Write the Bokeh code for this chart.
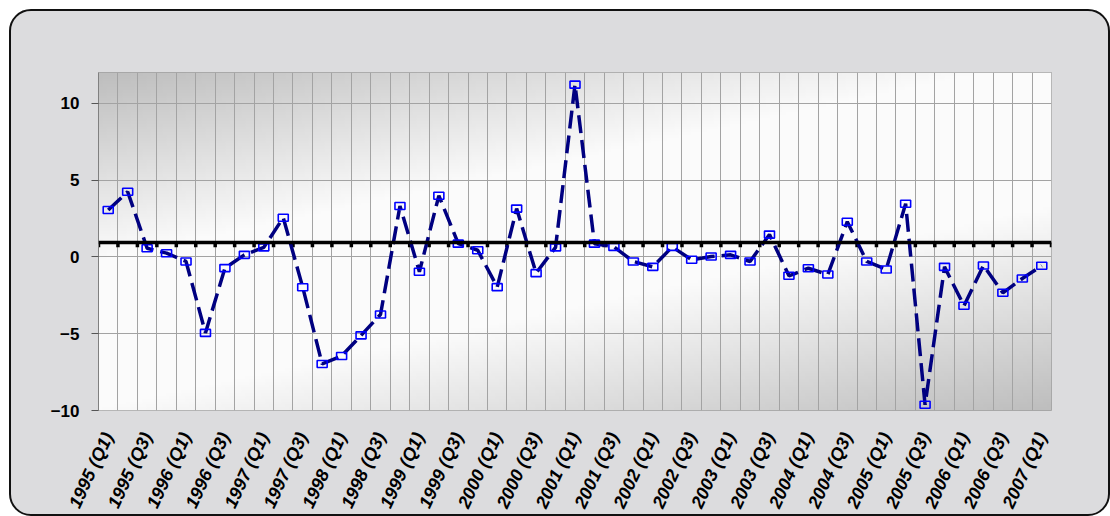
import numpy as np
from math import radians
from bokeh.plotting import figure
from bokeh.models import FixedTicker, Range1d, Span
from bokeh.embed import file_html
from bokeh.resources import INLINE

# ---------------- data ----------------
years = list(range(1995, 2008))
quarter_names = ["Q1", "Q2", "Q3", "Q4"]
categories = [f"{y} ({q})" for y in years for q in quarter_names][:49]   # 1995 (Q1) .. 2007 (Q1)
values = [3.05, 4.24, 0.56, 0.24, -0.30, -4.95, -0.73, 0.13, 0.62, 2.55,
          -1.98, -6.97, -6.45, -5.11, -3.75, 3.31, -0.97, 3.98, 0.86, 0.43,
          -1.97, 3.14, -1.06, 0.62, 11.21, 0.86, 0.65, -0.30, -0.65, 0.65,
          -0.19, 0.02, 0.13, -0.30, 1.45, -1.23, -0.74, -1.15, 2.29, -0.30,
          -0.82, 3.46, -9.63, -0.65, -3.18, -0.56, -2.34, -1.41, -0.58]
reference_level = 0.93
y_ticks = [-10, -5, 0, 5, 10]
y_min, y_max = -10, 12

# ---------------- figure ----------------
n = len(categories)
xs = list(range(1, n + 1))
x_lo, x_hi = 0.5, n + 0.5

p = figure(width=1101, height=507, output_backend="svg", toolbar_location=None,
           x_range=Range1d(x_lo, x_hi), y_range=Range1d(y_min, y_max),
           min_border_left=87, min_border_right=61, min_border_top=61, min_border_bottom=104)
p.margin = (9, 0, 0, 9)

p.border_fill_alpha = 0
p.styles = {"border": "2px solid #111111", "border-radius": "22px",
            "background-color": "#dcdcde", "overflow": "hidden", "box-sizing": "border-box"}
p.outline_line_color = "#a0a0a0"

# diagonal gradient background of plot area
H, W = 120, 240
u = np.linspace(0, 1, W)[None, :]
v = (1 - np.linspace(0, 1, H))[:, None]      # 0 at top, 1 at bottom (rows go bottom->top)
s = v + 0.6 * u
low, high = 190.0, 251.0
b = np.where(s < 0.55, low + (high - low) * s / 0.55,
             np.where(s <= 1.0, high, high - (high - low) * (s - 1.0) / 0.6))
b = np.clip(b, 0, 255).astype(np.uint8)
img = np.empty((H, W), dtype=np.uint32)
view = img.view(dtype=np.uint8).reshape((H, W, 4))
view[..., 0] = b
view[..., 1] = b
view[..., 2] = b
view[..., 3] = 255
p.image_rgba(image=[img], x=x_lo, y=y_min, dw=x_hi - x_lo, dh=y_max - y_min, level="image")

# grids
bounds = [i + 0.5 for i in range(0, n + 1)]
p.xgrid.ticker = FixedTicker(ticks=bounds)
p.xgrid.grid_line_color = "#a3a3a3"
p.xgrid.grid_line_width = 1
p.ygrid.ticker = FixedTicker(ticks=y_ticks)
p.ygrid.grid_line_color = "#a3a3a3"
p.ygrid.grid_line_width = 1

# reference line with tick marks
p.add_layout(Span(location=reference_level, dimension="width", line_color="black", line_width=3.5))
p.segment(x0=bounds, y0=[reference_level] * len(bounds), x1=bounds,
          y1=[reference_level - 0.3] * len(bounds), line_color="black", line_width=3.5)

# series
p.line(xs, values, line_color="#000080", line_width=3.5, line_dash="18 7")
p.rect(xs, values, width=10, height=7, width_units="screen", height_units="screen",
       fill_color=None, line_color="#0000ff", line_width=1.6)

# axes
p.xaxis.ticker = FixedTicker(ticks=xs[::2])
p.xaxis.major_label_overrides = {i: categories[i - 1] for i in xs[::2]}
p.xaxis.major_label_orientation = radians(65)
p.xaxis.major_label_text_font = "Liberation Sans"
p.xaxis.major_label_text_font_style = "bold italic"
p.xaxis.major_label_text_font_size = "18px"
p.xaxis.major_label_text_color = "black"
p.xaxis.axis_line_color = None
p.xaxis.major_tick_line_color = None
p.xaxis.minor_tick_line_color = None
p.xaxis.major_label_standoff = 17

p.yaxis.ticker = FixedTicker(ticks=y_ticks)
p.yaxis.major_label_text_font = "Liberation Sans"
p.yaxis.major_label_text_font_style = "bold"
p.yaxis.major_label_text_font_size = "17px"
p.yaxis.major_label_text_color = "black"
p.yaxis.axis_line_color = "#808080"
p.yaxis.major_tick_line_color = "#555555"
p.yaxis.major_tick_out = 7
p.yaxis.major_tick_in = 0
p.yaxis.minor_tick_line_color = None
p.yaxis.major_label_standoff = 12

open("out.html", "w").write(file_html(p, INLINE))
